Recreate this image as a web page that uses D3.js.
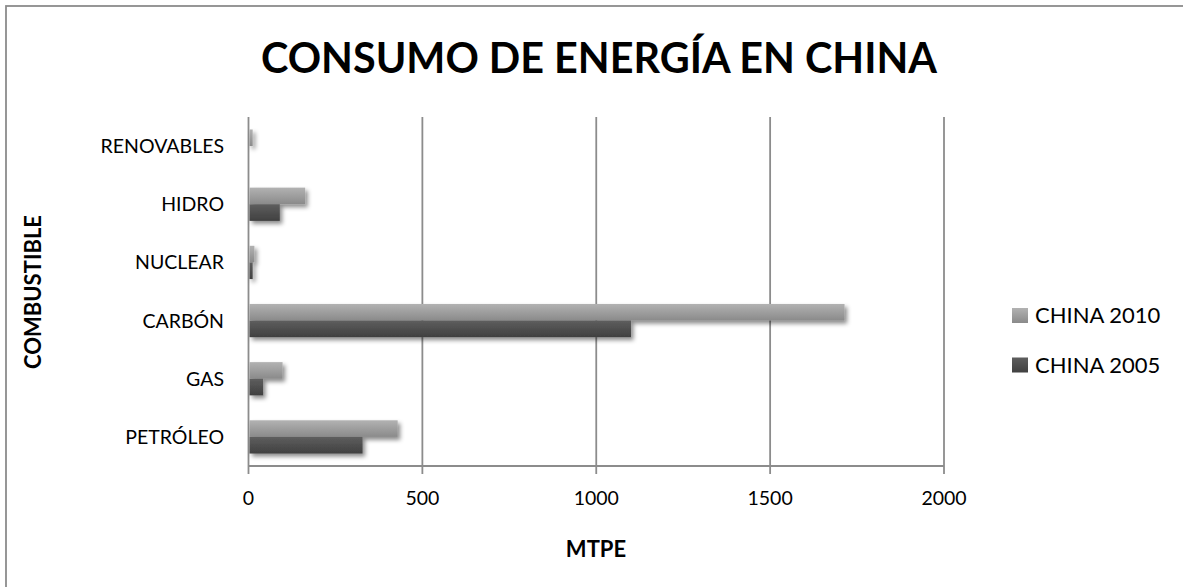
<!DOCTYPE html>
<html>
<head>
<meta charset="utf-8">
<script src="https://cdn.jsdelivr.net/npm/d3@7"></script>
<style>
  html, body { margin: 0; padding: 0; background: #fff; }
  svg { display: block; }
  text { font-family: Lato, "Open Sans", sans-serif; fill: #000; }
</style>
</head>
<body>
<svg id="chart" width="1183" height="587"></svg>
<script>
// Energy consumption in China by fuel (MTPE), 2005 vs 2010
const categories = ["RENOVABLES", "HIDRO", "NUCLEAR", "CARBÓN", "GAS", "PETRÓLEO"];
const values2010 = [12, 163, 17, 1714, 98, 429];
const values2005 = [1, 90, 12, 1100, 42, 328];
const seriesNames = ["CHINA 2010", "CHINA 2005"];
const xTicks = [0, 500, 1000, 1500, 2000];

const svg = d3.select("#chart");
const W = 1183, H = 587;
const plot = { left: 248.5, right: 944, top: 117, bottom: 466 };

// gradients and shadow
const defs = svg.append("defs");
const gradSpecs = [
  { id: "g2010", top: "#b2b2b2", bottom: "#8a8a8a" },
  { id: "g2005", top: "#5e5e5e", bottom: "#404040" }
];
gradSpecs.forEach(g => {
  const lg = defs.append("linearGradient").attr("id", g.id)
    .attr("x1", 0).attr("y1", 0).attr("x2", 0).attr("y2", 1);
  lg.append("stop").attr("offset", "0%").attr("stop-color", g.top);
  lg.append("stop").attr("offset", "100%").attr("stop-color", g.bottom);
});
const f = defs.append("filter").attr("id", "shadow")
  .attr("x", "-20%").attr("y", "-40%").attr("width", "140%").attr("height", "200%");
f.append("feDropShadow").attr("dx", 2.5).attr("dy", 3).attr("stdDeviation", 2)
  .attr("flood-color", "#000").attr("flood-opacity", 0.45);

// outer chart frame
svg.append("rect").attr("x", 6).attr("y", 6).attr("width", W + 20).attr("height", H + 20)
  .attr("fill", "#fff").attr("stroke", "#8c8c8c").attr("stroke-width", 1.8);

// scales
const x = d3.scaleLinear().domain([0, 2000]).range([plot.left, plot.right]);
const y = d3.scaleBand().domain(categories).range([plot.top, plot.bottom]);
const bandInner = d3.scaleBand().domain(seriesNames)
  .range([0, y.bandwidth()]).paddingInner(0).paddingOuter(0.75);

// gridlines with outside tick marks
svg.append("g").selectAll("line").data(xTicks).join("line")
  .attr("x1", d => x(d)).attr("x2", d => x(d))
  .attr("y1", plot.top).attr("y2", plot.bottom + 8)
  .attr("stroke", "#8c8c8c").attr("stroke-width", 1.8);

// horizontal value axis line
svg.append("line").attr("x1", plot.left).attr("x2", plot.right)
  .attr("y1", plot.bottom).attr("y2", plot.bottom)
  .attr("stroke", "#8c8c8c").attr("stroke-width", 1.8);

// bars
const rows = [];
categories.forEach((c, i) => {
  rows.push({ cat: c, series: seriesNames[0], v: values2010[i], grad: "g2010" });
  rows.push({ cat: c, series: seriesNames[1], v: values2005[i], grad: "g2005" });
});
svg.append("g").attr("filter", "url(#shadow)")
  .selectAll("rect").data(rows).join("rect")
  .attr("x", x(0) + 1)
  .attr("y", d => y(d.cat) + bandInner(d.series))
  .attr("width", d => Math.max(0, x(d.v) - x(0) - 1))
  .attr("height", bandInner.bandwidth())
  .attr("fill", d => `url(#${d.grad})`);

// x tick labels
svg.append("g").selectAll("text").data(xTicks).join("text")
  .attr("x", d => x(d)).attr("y", 505)
  .attr("text-anchor", "middle").attr("font-size", 19.5)
  .text(d => d);

// category labels
svg.append("g").selectAll("text").data(categories).join("text")
  .attr("x", 224).attr("y", d => y(d) + y.bandwidth() / 2 + 7)
  .attr("text-anchor", "end").attr("font-size", 19.5)
  .text(d => d);

// title
svg.append("text").attr("x", 599).attr("y", 73)
  .attr("text-anchor", "middle").attr("font-size", 42).attr("font-weight", "bold")
  .attr("textLength", 676).attr("lengthAdjust", "spacingAndGlyphs")
  .text("CONSUMO DE ENERGÍA EN CHINA");

// axis titles
svg.append("text").attr("x", 596).attr("y", 557)
  .attr("text-anchor", "middle").attr("font-size", 22).attr("font-weight", "bold")
  .text("MTPE");
svg.append("text")
  .attr("transform", "translate(41,292) rotate(-90)")
  .attr("text-anchor", "middle").attr("font-size", 22).attr("font-weight", "bold")
  .text("COMBUSTIBLE");

// legend
const legend = svg.append("g");
const legendY = [315.5, 365];
seriesNames.forEach((s, i) => {
  legend.append("rect").attr("x", 1012).attr("y", legendY[i] - 7.5)
    .attr("width", 16).attr("height", 15).attr("fill", `url(#${gradSpecs[i].id})`);
  legend.append("text").attr("x", 1035).attr("y", legendY[i] + 7.5)
    .attr("font-size", 22).text(s);
});
</script>
</body>
</html>
